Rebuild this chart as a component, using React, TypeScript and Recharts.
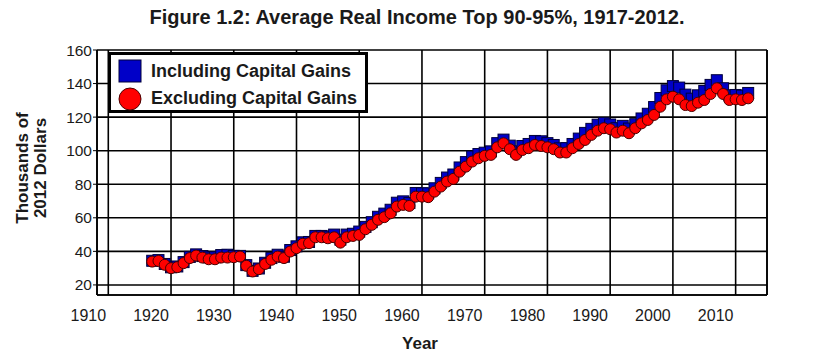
import React from 'react';
import {
  ComposedChart, Line, XAxis, YAxis, CartesianGrid, Legend, ReferenceLine, Label
} from 'recharts';

// Years 1917-2012, thousands of 2012 dollars
const years = [
  1917, 1918, 1919, 1920, 1921, 1922, 1923, 1924, 1925, 1926,
  1927, 1928, 1929, 1930, 1931, 1932, 1933, 1934, 1935, 1936,
  1937, 1938, 1939, 1940, 1941, 1942, 1943, 1944, 1945, 1946,
  1947, 1948, 1949, 1950, 1951, 1952, 1953, 1954, 1955, 1956,
  1957, 1958, 1959, 1960, 1961, 1962, 1963, 1964, 1965, 1966,
  1967, 1968, 1969, 1970, 1971, 1972, 1973, 1974, 1975, 1976,
  1977, 1978, 1979, 1980, 1981, 1982, 1983, 1984, 1985, 1986,
  1987, 1988, 1989, 1990, 1991, 1992, 1993, 1994, 1995, 1996,
  1997, 1998, 1999, 2000, 2001, 2002, 2003, 2004, 2005, 2006,
  2007, 2008, 2009, 2010, 2011, 2012,
];

const includingCapGains = [
  34.4, 34.8, 32.5, 30.5, 31.0, 33.6, 36.7, 38.2, 37.2, 36.4,
  36.5, 37.8, 38.0, 37.3, 37.3, 31.8, 28.4, 29.8, 33.2, 36.0,
  38.0, 36.8, 40.8, 43.0, 45.4, 45.6, 49.2, 49.2, 48.8, 50.0,
  47.0, 50.0, 50.5, 51.8, 54.6, 57.4, 60.6, 62.5, 64.8, 69.0,
  69.8, 68.8, 74.8, 74.6, 74.6, 77.6, 80.8, 84.0, 85.8, 90.0,
  93.2, 96.5, 98.0, 98.8, 99.6, 104.5, 106.6, 103.0, 99.6, 102.8,
  104.0, 105.8, 105.6, 104.5, 103.4, 101.4, 101.5, 104.0, 107.2, 110.6,
  113.0, 115.5, 116.5, 115.6, 113.4, 114.8, 113.2, 115.8, 119.2, 122.0,
  126.0, 131.4, 136.0, 138.5, 137.6, 133.4, 131.0, 133.0, 135.6, 139.2,
  142.0, 137.2, 133.0, 133.2, 132.8, 134.4,
];

const excludingCapGains = [
  33.9, 34.3, 32.0, 30.0, 30.6, 33.0, 36.0, 37.5, 36.3, 35.3,
  35.3, 36.3, 36.3, 36.5, 36.9, 31.4, 28.0, 29.4, 32.5, 35.0,
  36.9, 36.0, 39.9, 41.9, 44.5, 44.9, 48.4, 48.4, 47.8, 48.4,
  45.2, 48.4, 49.2, 49.8, 53.2, 55.8, 58.8, 60.4, 62.7, 66.7,
  67.7, 67.1, 72.6, 72.6, 72.3, 75.6, 78.6, 81.6, 83.2, 87.5,
  90.5, 93.5, 95.5, 96.9, 97.5, 102.0, 104.4, 100.9, 97.5, 100.4,
  101.5, 103.4, 102.8, 102.0, 100.9, 98.9, 98.9, 101.5, 104.0, 106.4,
  109.4, 111.9, 113.4, 112.8, 110.8, 111.9, 110.4, 113.4, 116.3, 118.3,
  121.3, 126.2, 130.6, 132.2, 130.6, 127.2, 126.6, 128.6, 130.2, 133.8,
  137.2, 133.8, 130.2, 130.6, 130.2, 131.2,
];

const xTicks = [1910, 1920, 1930, 1940, 1950, 1960, 1970, 1980, 1990, 2000, 2010];
const yTicks = [20, 40, 60, 80, 100, 120, 140, 160];

const FONT = '"Liberation Sans", Arial, sans-serif';
const TEXT = '#1a1a1a';

const BLUE = '#0000c8';
const BLUE_EDGE = '#00003a';
const RED = '#ff0000';
const RED_EDGE = '#4a0000';

const data = years.map((year, i) => ({
  year,
  incl: includingCapGains[i],
  excl: excludingCapGains[i],
}));

const SquareDot = (props: any) => {
  const { cx, cy, index } = props;
  if (cx == null || cy == null) return <g key={`s${index}`} />;
  return (
    <rect key={`s${index}`} x={cx - 5.5} y={cy - 5.5} width={11} height={11}
      fill={BLUE} stroke={BLUE_EDGE} strokeWidth={1} />
  );
};

const CircleDot = (props: any) => {
  const { cx, cy, index } = props;
  if (cx == null || cy == null) return <g key={`c${index}`} />;
  return (
    <circle key={`c${index}`} cx={cx} cy={cy} r={5.5}
      fill={RED} stroke={RED_EDGE} strokeWidth={1} />
  );
};

// tick labels sit about 20px left of their gridlines in the original
const YearTick = (props: any) => {
  const { x, y, payload } = props;
  return (
    <text x={x - 20} y={y + 12} textAnchor="middle" dominantBaseline="central"
      fontFamily={FONT} fontSize={16} fill={TEXT}>
      {payload.value}
    </text>
  );
};

const LegendBox = () => (
  <div style={{
    boxSizing: 'border-box', width: 260, height: 61, border: '3px solid #000',
    background: '#fff', padding: '2px 0 0 7px', fontFamily: FONT, fontWeight: 'bold',
    fontSize: 18, color: TEXT, textAlign: 'left',
  }}>
    <div style={{ display: 'flex', alignItems: 'center', height: 28 }}>
      <svg width={24} height={24} style={{ marginRight: 9 }}>
        <rect x={1} y={1} width={22} height={22} fill={BLUE} stroke={BLUE_EDGE} />
      </svg>
      Including Capital Gains
    </div>
    <div style={{ display: 'flex', alignItems: 'center', height: 27 }}>
      <svg width={24} height={24} style={{ marginRight: 9 }}>
        <circle cx={12} cy={12} r={11} fill={RED} stroke={RED_EDGE} />
      </svg>
      Excluding Capital Gains
    </div>
  </div>
);

export default function App() {
  return (
    <div style={{ position: 'absolute', left: 0, top: 0, width: 822, height: 361, background: '#fff' }}>
      <div style={{
        position: 'absolute', left: 0, top: 6, width: 834, textAlign: 'center',
        fontFamily: FONT, fontWeight: 'bold', fontSize: 20, color: TEXT,
      }}>
        Figure 1.2: Average Real Income Top 90-95%, 1917-2012.
      </div>
      <ComposedChart
        width={822}
        height={361}
        data={data}
        margin={{ top: 50, right: 55, bottom: 26, left: 52 }}
      >
        <CartesianGrid stroke="#000" strokeWidth={1.6} fill="#fff" />
        <XAxis
          dataKey="year"
          type="number"
          domain={[1908.2, 2015]}
          ticks={xTicks}
          allowDataOverflow
          height={40}
          tickLine={false}
          axisLine={{ stroke: '#000', strokeWidth: 1.6 }}
          tick={<YearTick />}
        >
          <Label
            content={() => (
              <text x={420} y={343} textAnchor="middle" dominantBaseline="central"
                fontFamily={FONT} fontWeight="bold" fontSize={17} fill={TEXT}>
                Year
              </text>
            )}
          />
        </XAxis>
        <YAxis
          type="number"
          domain={[14, 160]}
          ticks={yTicks}
          allowDataOverflow
          width={45}
          tickSize={4}
          tickMargin={1}
          tickLine={{ stroke: '#000' }}
          axisLine={{ stroke: '#000', strokeWidth: 1.6 }}
          tick={{ fontFamily: FONT, fontSize: 15.5, fill: TEXT }}
        >
          <Label
            content={() => (
              <g fontFamily={FONT} fontWeight="bold" fontSize={17} fill={TEXT}>
                <text transform="translate(22,168) rotate(-90)" textAnchor="middle"
                  dominantBaseline="central">Thousands of</text>
                <text transform="translate(40,168) rotate(-90)" textAnchor="middle"
                  dominantBaseline="central">2012 Dollars</text>
              </g>
            )}
          />
        </YAxis>
        <ReferenceLine x={2015} stroke="#000" strokeWidth={1.6} />
        <Legend
          layout="horizontal"
          verticalAlign="middle"
          align="center"
          wrapperStyle={{ left: 108, top: 52, width: 260, height: 61 }}
          content={() => <LegendBox />}
        />
        <Line
          dataKey="incl"
          name="Including Capital Gains"
          stroke="none"
          dot={SquareDot}
          activeDot={false}
          isAnimationActive={false}
        />
        <Line
          dataKey="excl"
          name="Excluding Capital Gains"
          stroke="none"
          dot={CircleDot}
          activeDot={false}
          isAnimationActive={false}
        />
      </ComposedChart>
    </div>
  );
}
